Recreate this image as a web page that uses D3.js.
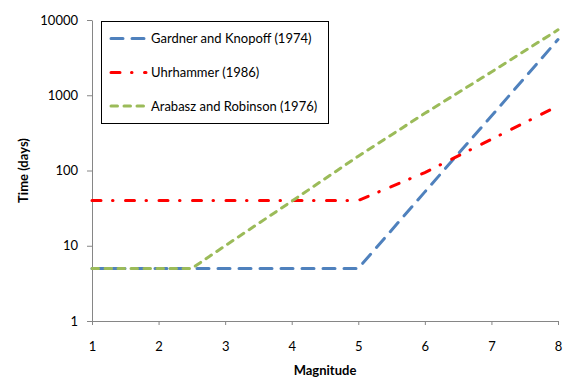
<!DOCTYPE html>
<html>
<head>
<meta charset="utf-8">
<script src="https://cdn.jsdelivr.net/npm/d3@7"></script>
<style>
  html, body { margin: 0; padding: 0; background: #fff; }
  svg { display: block; font-family: Lato, "Open Sans", sans-serif; }
</style>
</head>
<body>
<svg id="chart" width="563" height="377"></svg>
<script>
// Aftershock time windows vs. magnitude
const magnitudes   = [1, 2, 2.5, 3, 4, 5, 6, 7, 8];
const gardner      = [5, 5, 5, 5, 5, 5, 52, 530, 5500];
const uhrhammer    = [40, 40, 40, 40, 40, 40, 94, 260, 720];
const arabasz      = [5, 5, 5, 10, 39, 155, 575, 2040, 7400];
const seriesNames  = ["Gardner and Knopoff (1974)", "Uhrhammer (1986)", "Arabasz and Robinson (1976)"];
const xTicks       = [1, 2, 3, 4, 5, 6, 7, 8];
const yTicks       = [1, 10, 100, 1000, 10000];

const series = [
  { name: seriesNames[0], values: gardner,   color: "#4F81BD", dash: "12,9" },
  { name: seriesNames[1], values: uhrhammer, color: "#FF0000", dash: "9,11.5,0.5,12.5" },
  { name: seriesNames[2], values: arabasz,   color: "#9BBB59", dash: "6.5,6.5" }
];

const svg = d3.select("#chart");
const plotLeft = 92, plotRight = 558, plotTop = 20, plotBottom = 321;
const fontSize = "13px";

const x = d3.scaleLinear().domain([1, 8]).range([plotLeft, plotRight]);
const y = d3.scaleLog().domain([1, 10000]).range([plotBottom, plotTop]);

const axisColor = "#868686";

// y axis
const yAxis = svg.append("g")
  .attr("transform", `translate(${plotLeft},0)`)
  .call(d3.axisLeft(y).tickValues(yTicks).tickFormat(d3.format("d")).tickSize(5).tickSizeOuter(0).tickPadding(9));
// x axis
const xAxis = svg.append("g")
  .attr("transform", `translate(0,${plotBottom})`)
  .call(d3.axisBottom(x).tickValues(xTicks).tickFormat(d3.format("d")).tickSize(4).tickSizeOuter(0).tickPadding(17));

[yAxis, xAxis].forEach(g => {
  g.select(".domain").attr("stroke", axisColor).attr("stroke-width", 1);
  g.selectAll(".tick line").attr("stroke", axisColor);
  g.selectAll(".tick text").attr("fill", "#000").style("font-size", fontSize).style("font-family", "Lato, sans-serif");
});

// axis titles
svg.append("text")
  .attr("x", (plotLeft + plotRight) / 2).attr("y", 375)
  .attr("text-anchor", "middle")
  .style("font-size", fontSize).style("font-weight", "bold")
  .text("Magnitude");
svg.append("text")
  .attr("transform", `translate(28,${(plotTop + plotBottom) / 2}) rotate(-90)`)
  .attr("text-anchor", "middle")
  .style("font-size", fontSize).style("font-weight", "bold")
  .text("Time (days)");

// lines
const line = d3.line()
  .x((d, i) => x(magnitudes[i]))
  .y(d => y(d));

series.forEach(s => {
  svg.append("path")
    .datum(s.values)
    .attr("d", line)
    .attr("fill", "none")
    .attr("stroke", s.color)
    .attr("stroke-width", 3)
    .attr("stroke-linecap", "round")
    .attr("stroke-dasharray", s.dash);
});

// legend
const legend = svg.append("g");
legend.append("rect")
  .attr("x", 101.5).attr("y", 21.5)
  .attr("width", 227).attr("height", 102)
  .attr("fill", "#fff").attr("stroke", "#000").attr("stroke-width", 1);

const rowY = [38.5, 72.5, 106];
series.forEach((s, i) => {
  legend.append("line")
    .attr("x1", 111).attr("x2", 146)
    .attr("y1", rowY[i]).attr("y2", rowY[i])
    .attr("stroke", s.color).attr("stroke-width", 3)
    .attr("stroke-linecap", "round")
    .attr("stroke-dasharray", s.dash);
  legend.append("text")
    .attr("x", 151).attr("y", rowY[i] + 4.5)
    .style("font-size", fontSize)
    .text(s.name);
});
</script>
</body>
</html>
